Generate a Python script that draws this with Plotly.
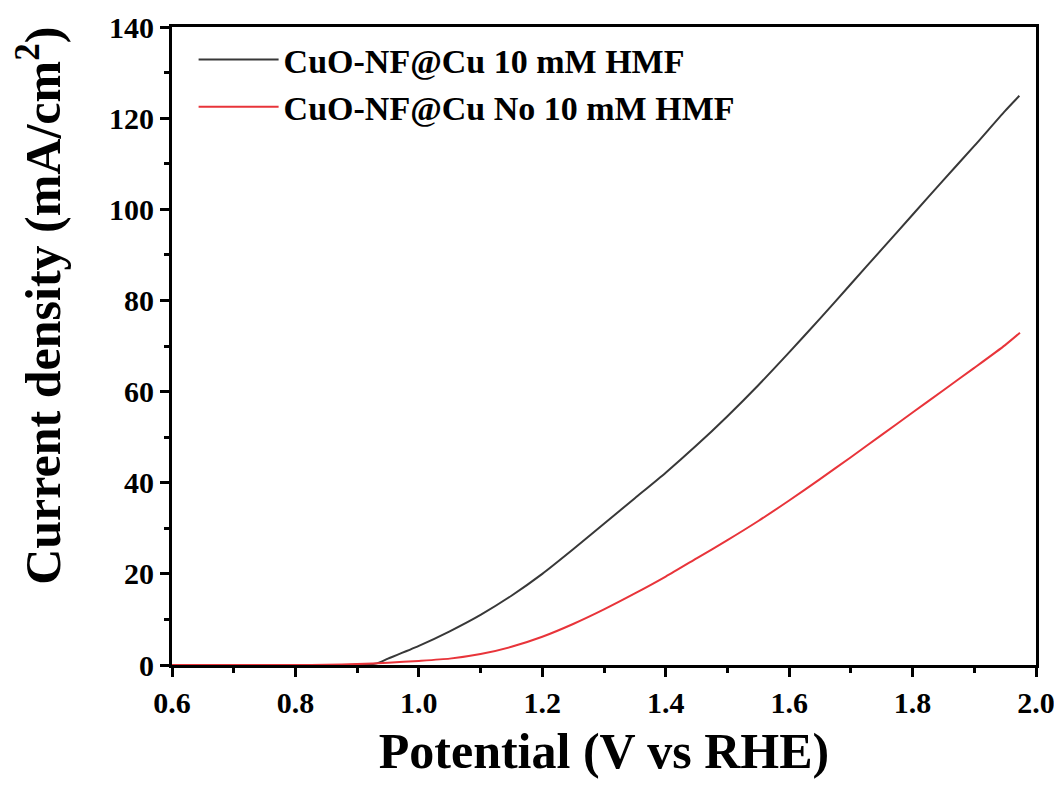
import plotly.graph_objects as go

# Data
potential_hmf = [0.60, 0.65, 0.70, 0.75, 0.80, 0.85, 0.90, 0.93, 0.95, 1.00, 1.05, 1.10,
                 1.15, 1.20, 1.25, 1.30, 1.35, 1.40, 1.45, 1.50, 1.55, 1.60, 1.65,
                 1.70, 1.75, 1.80, 1.85, 1.90, 1.95, 1.973]
current_hmf = [0, 0, 0, 0, 0, 0, 0.05, 0.3, 1.4, 4.2, 7.4, 11.0,
               15.2, 20.0, 25.4, 31.0, 36.6, 42.2, 48.2, 54.6, 61.4, 68.6, 76.0,
               83.6, 91.2, 98.8, 106.4, 113.9, 121.6, 124.9]

potential_no = [0.60, 0.65, 0.70, 0.75, 0.80, 0.85, 0.90, 0.95, 1.00, 1.05, 1.10,
                1.15, 1.20, 1.25, 1.30, 1.35, 1.40, 1.45, 1.50, 1.55, 1.60, 1.65,
                1.70, 1.75, 1.80, 1.85, 1.90, 1.95, 1.974]
current_no = [0, 0, 0, 0, 0, 0.05, 0.2, 0.5, 0.9, 1.4, 2.4,
              4.0, 6.2, 9.0, 12.2, 15.7, 19.4, 23.4, 27.4, 31.6, 36.1, 40.8,
              45.6, 50.5, 55.4, 60.3, 65.2, 70.2, 72.9]

names = ["CuO-NF@Cu 10 mM HMF", "CuO-NF@Cu No 10 mM HMF"]
x_ticks = [0.6, 0.8, 1.0, 1.2, 1.4, 1.6, 1.8, 2.0]
y_ticks = [0, 20, 40, 60, 80, 100, 120, 140]
x_title = "Potential (V vs RHE)"
y_title = "Current density (mA/cm<sup>2</sup>)"

FONT = "Liberation Serif"

fig = go.Figure()
fig.add_trace(go.Scatter(x=potential_hmf, y=current_hmf, mode="lines", name=names[0],
                         legendgroup="a",
                         line=dict(color="#383838", width=2, shape="spline", smoothing=0.6)))
fig.add_trace(go.Scatter(x=potential_no, y=current_no, mode="lines", name=names[1],
                         legendgroup="b",
                         line=dict(color="#e8343a", width=2, shape="spline", smoothing=0.6)))

axis_common = dict(
    showline=True, linecolor="black", linewidth=3, mirror=True,
    ticks="outside", ticklen=9, tickwidth=3, tickcolor="black",
    showgrid=False, zeroline=False, automargin=False,
    tickfont=dict(family=FONT, size=30, color="black", weight="bold"),
)

fig.update_xaxes(
    range=[0.6, 2.0], tickvals=x_ticks, ticktext=[f"{v:.1f}" for v in x_ticks],
    minor=dict(ticks="outside", ticklen=5, tickwidth=3, tickcolor="black", dtick=0.1),
    title=dict(text=x_title, standoff=15,
               font=dict(family=FONT, size=50, color="black", weight="bold")),
    **axis_common)
fig.update_yaxes(
    range=[0, 140], tickvals=y_ticks,
    minor=dict(ticks="outside", ticklen=5, tickwidth=3, tickcolor="black", dtick=10),
    **axis_common)

fig.add_annotation(
    text=y_title, xref="paper", yref="paper", x=-0.153, y=0.5627,
    xanchor="center", yanchor="middle", textangle=-90, showarrow=False,
    font=dict(family=FONT, size=50, color="black", weight="bold"))

fig.update_layout(
    width=1054, height=781,
    margin=dict(l=164, r=26, t=19, b=124),
    paper_bgcolor="white", plot_bgcolor="white",
    showlegend=True,
    legend=dict(x=0.025, y=0.994, xanchor="left", yanchor="top",
                bgcolor="rgba(0,0,0,0)", borderwidth=0,
                font=dict(family=FONT, size=34, color="black", weight="bold"),
                itemwidth=80, traceorder="grouped", tracegroupgap=0),
)

fig.write_html("out.html")
